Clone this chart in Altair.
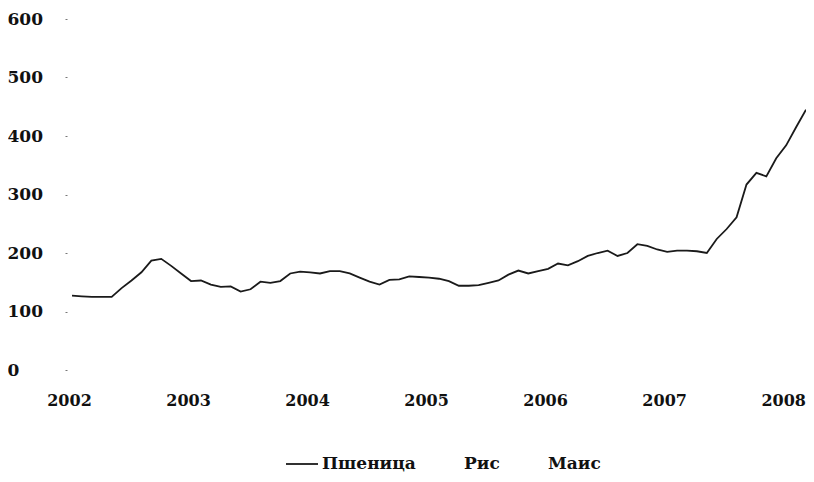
import altair as alt
import pandas as pd

# Monthly index: 0 = Jan 2002 ... 74 = Mar 2008
months = list(range(75))
wheat = [
    127, 126, 125, 125, 125, 140, 153, 167, 187, 190, 178, 165,
    152, 153, 146, 142, 143, 134, 138, 151, 149, 152, 165, 168,
    167, 165, 169, 169, 165, 158, 151, 146, 154, 155, 160, 159,
    158, 156, 152, 144, 144, 145, 149, 153, 163, 170, 165, 169,
    173, 182, 179, 186, 195, 200, 204, 195, 200, 215, 212, 206,
    202, 204, 204, 203, 200, 224, 241, 261, 317, 337, 331, 362,
    384, 415, 445,
]
year_ticks = [0, 12, 24, 36, 48, 60, 72]
y_ticks = [0, 100, 200, 300, 400, 500, 600]
series = ["Пшеница", "Рис", "Маис"]
series_colors = ["#1a1a1a", "transparent", "transparent"]

df = pd.DataFrame({"m": months, "v": wheat, "s": ["Пшеница"] * len(months)})

FONT = "DejaVu Serif"

chart = (
    alt.Chart(df)
    .mark_line(strokeWidth=1.8)
    .encode(
        x=alt.X(
            "m:Q",
            scale=alt.Scale(domain=[0, 74], nice=False, zero=False),
            axis=alt.Axis(
                values=year_ticks,
                labelExpr="2002 + datum.value / 12",
                grid=False,
                domain=False,
                ticks=False,
                labelFlush=False,
                labelOverlap=False,
                labelOffset=-3,
                labelPadding=22,
                labelFont=FONT,
                labelFontSize=16,
                labelFontWeight="bold",
                labelColor="#111111",
                title=None,
            ),
        ),
        y=alt.Y(
            "v:Q",
            scale=alt.Scale(domain=[0, 600], nice=False),
            axis=alt.Axis(
                values=y_ticks,
                grid=False,
                domain=False,
                tickSize=2,
                tickColor="#777777",
                offset=5,
                labelAlign="left",
                labelPadding=58,
                labelFont=FONT,
                labelFontSize=17,
                labelFontWeight="bold",
                labelColor="#111111",
                title=None,
            ),
        ),
        color=alt.Color(
            "s:N",
            scale=alt.Scale(domain=series, range=series_colors),
            legend=alt.Legend(
                orient="none",
                legendX=213,
                legendY=428,
                direction="horizontal",
                title=None,
                symbolType="stroke",
                symbolSize=1024,
                symbolStrokeWidth=1.8,
                labelFont=FONT,
                labelFontSize=17,
                labelFontWeight="bold",
                labelColor="#111111",
                labelOffset=3,
                columnPadding=8,
            ),
        ),
    )
    .properties(
        width=734,
        height=351,
        padding={"left": 64, "top": 11, "right": 0, "bottom": 104},
        autosize="none",
        background="white",
    )
    .configure_view(stroke=None)
)

chart.save("out.html", embed_options={"renderer": "svg", "actions": False})
